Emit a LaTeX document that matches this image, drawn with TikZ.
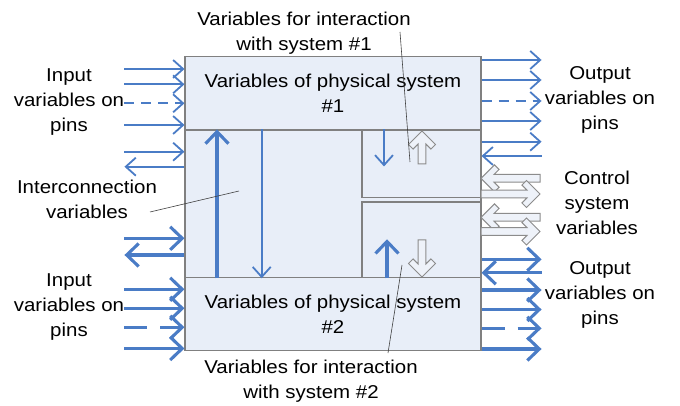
\documentclass[tikz,border=0pt]{standalone}
\usepackage{fontspec}
\setmainfont{Liberation Sans}[FakeStretch=1.1]
\usetikzlibrary{arrows.meta,calc}
\definecolor{boxfill}{HTML}{E8EEF8}
\definecolor{boxline}{HTML}{808080}
\definecolor{pinblue}{HTML}{4A7CC6}
\definecolor{hollowfill}{HTML}{EEF2F9}
\definecolor{hollowline}{HTML}{8C8C8C}
\definecolor{leadercol}{HTML}{404040}
\newcommand\hollowarrow[4]{%
  \draw[hollowarr,shift={(#1,#2)},rotate=#3]
    (0,0) -- (13.5,-13.5) -- (18.1,-8.9) -- (13,-3.8) -- (#4,-3.8) -- (#4,3.8)
    -- (13,3.8) -- (18.1,8.9) -- (13.5,13.5) -- cycle;}
\begin{document}
\begin{tikzpicture}[x=1pt,y=-1pt,
  txt/.style={font=\fontsize{18.6}{25}\selectfont, align=center, inner sep=0pt, text=black},
  lbl/.style={txt, anchor=north},
  region/.style={draw=boxline, fill=boxfill, line width=1.1pt, inner sep=0pt, txt},
  thinarr/.style={pinblue, line width=1.8pt, -{Straight Barb[length=10pt,width=18pt]}},
  thickarr/.style={pinblue, line width=3.1pt, -{Straight Barb[length=12pt,width=23pt]}},
  thindash/.style={dash pattern=on 10pt off 7pt},
  thickdash/.style={dash pattern=on 23pt off 13pt},
  hollowarr/.style={draw=hollowline, fill=hollowfill, line width=1pt, line join=miter},
  leaderline/.style={draw=leadercol, line width=0.6pt}]
\useasboundingbox (0,0) rectangle (680,406);
\fill[white] (0,0) rectangle (680,406);

% regions
\node[region, minimum width=296pt, minimum height=147.7pt] (mid) at (333,203.85) {};
\node[region, minimum width=296pt, minimum height=73.3pt] (sys1) at (333,93.35)
  {Variables of physical system\\\#1};
\node[region, minimum width=296pt, minimum height=73pt] (sys2) at (333,314.2)
  {Variables of physical system\\\#2};
\node[region, minimum width=119pt, minimum height=67.7pt] (subA) at (421.5,163.85) {};
\node[region, minimum width=119pt, minimum height=75.7pt] (subB) at (421.5,239.85) {};

% interconnection arrows inside
\draw[thickarr] (mid.south -| 217,0) -- (mid.north -| 217,0);
\draw[thinarr] (mid.north -| 261.7,0) -- (mid.south -| 261.7,0);
\draw[thinarr] (subA.north -| 384,0) -- ($(subA.north -| 384,0)+(0,37)$);
\draw[thickarr] (subB.south -| 387,0) -- ($(subB.south -| 387,0)+(0,-39)$);
\hollowarrow{422}{131}{-90}{33}
\hollowarrow{422}{277}{90}{37}

% left side
\foreach \y in {69,84.3,125}
  \draw[thinarr] ($(sys1.west |- 0,\y)+(-60,0)$) -- (sys1.west |- 0,\y);
\draw[thinarr,thindash] ($(sys1.west |- 0,103.3)+(-60,0)$) -- (sys1.west |- 0,103.3);
\draw[thinarr] ($(mid.west |- 0,151.7)+(-60,0)$) -- (mid.west |- 0,151.7);
\draw[thinarr] (mid.west |- 0,166.7) -- ($(mid.west |- 0,166.7)+(-60,0)$);
\draw[thickarr] ($(mid.west |- 0,238.3)+(-60,0)$) -- (mid.west |- 0,238.3);
\draw[thickarr] (mid.west |- 0,255) -- ($(mid.west |- 0,255)+(-60,0)$);
\foreach \y in {289.3,308.3,348.5}
  \draw[thickarr] ($(sys2.west |- 0,\y)+(-60,0)$) -- (sys2.west |- 0,\y);
\draw[thickarr,thickdash] ($(sys2.west |- 0,327.3)+(-60,0)$) -- (sys2.west |- 0,327.3);

% right side
\foreach \y in {60,80,121}
  \draw[thinarr] (sys1.east |- 0,\y) -- ($(sys1.east |- 0,\y)+(60,0)$);
\draw[thinarr,thindash] (sys1.east |- 0,101) -- ($(sys1.east |- 0,101)+(60,0)$);
\draw[thinarr] (mid.east |- 0,141.7) -- ($(mid.east |- 0,141.7)+(60,0)$);
\draw[thinarr] ($(mid.east |- 0,156)+(60,0)$) -- (mid.east |- 0,156);
\hollowarrow{481}{178.3}{0}{59}
\hollowarrow{540}{194}{180}{59}
\hollowarrow{481}{217.3}{0}{59}
\hollowarrow{540}{231.5}{180}{59}
\draw[thickarr] (mid.east |- 0,259.3) -- ($(mid.east |- 0,259.3)+(60,0)$);
\draw[thickarr] ($(mid.east |- 0,272.7)+(60,0)$) -- (mid.east |- 0,272.7);
\foreach \y in {290,309.5,349}
  \draw[thickarr] (sys2.east |- 0,\y) -- ($(sys2.east |- 0,\y)+(60,0)$);
\draw[thickarr,thickdash] (sys2.east |- 0,328.3) -- ($(sys2.east |- 0,328.3)+(60,0)$);

% labels
\node[lbl] (toplbl) at (304,11.7) {Variables for interaction\\with system \#1};
\node[lbl] (inlbl1) at (69,68.3) {Input\\variables on\\pins};
\node[lbl] (iclbl) at (87,180) {Interconnection\\variables};
\node[lbl] (inlbl2) at (69,274) {Input\\variables on\\pins};
\node[lbl] (outlbl1) at (600,66.7) {Output\\variables on\\pins};
\node[lbl] (ctllbl) at (597,171.3) {Control\\system\\variables};
\node[lbl] (outlbl2) at (600,261) {Output\\variables on\\pins};
\node[lbl] (botlbl) at (311,360) {Variables for interaction\\with system \#2};

% leader lines
\coordinate (l1a) at (400,32);   \coordinate (l1b) at (410,162);
\coordinate (l2a) at (150,212);  \coordinate (l2b) at (239,191);
\coordinate (l3a) at (388,353);  \coordinate (l3b) at (402,265);
\draw[leaderline] (l1a) -- (l1b);
\draw[leaderline] (l2a) -- (l2b);
\draw[leaderline] (l3a) -- (l3b);
\end{tikzpicture}
\end{document}
